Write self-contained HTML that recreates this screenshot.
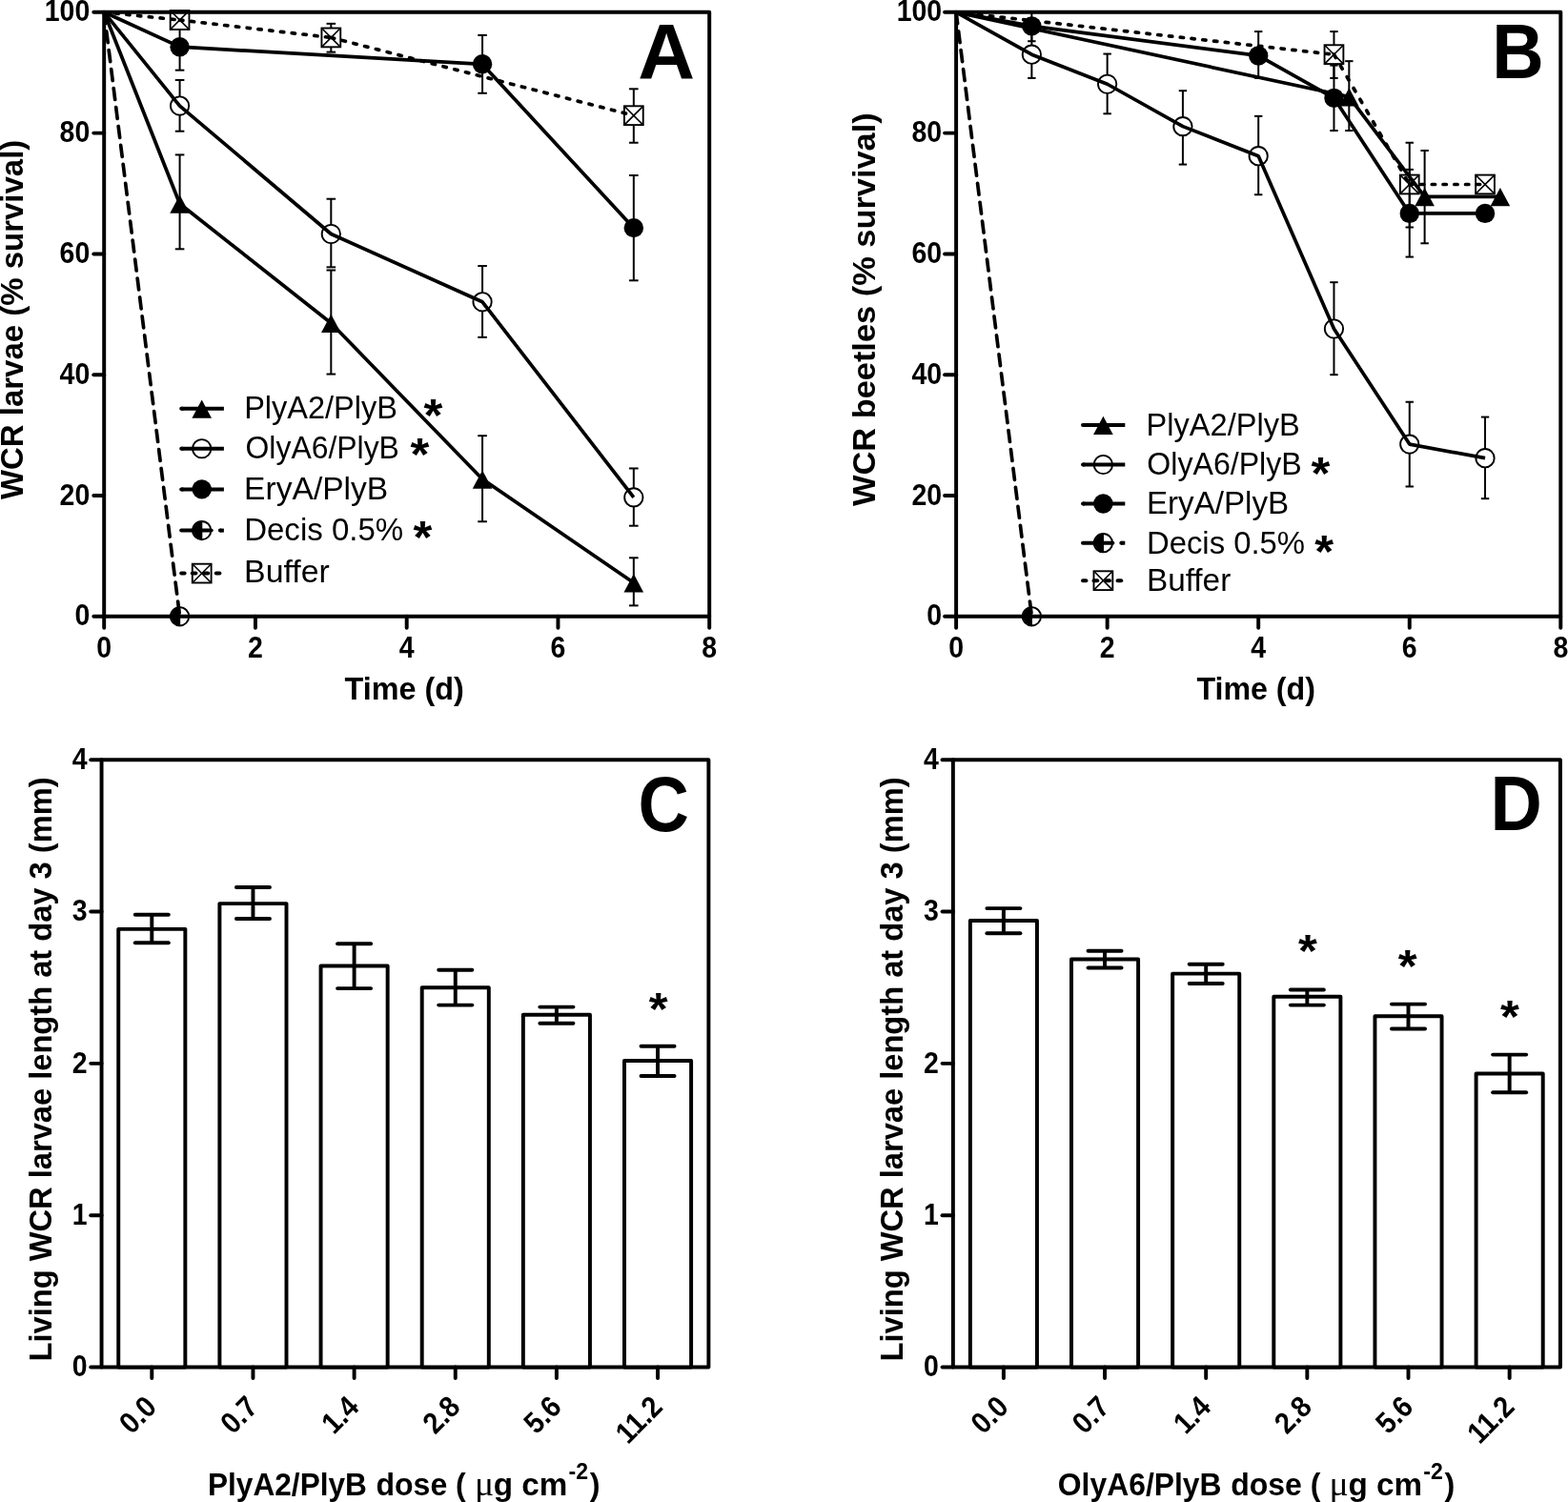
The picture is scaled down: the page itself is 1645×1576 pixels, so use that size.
<!DOCTYPE html>
<html lang="en"><head><meta charset="utf-8"><title>WCR survival and larval length</title>
<style>html,body{margin:0;padding:0;background:#fff}svg{display:block}</style></head>
<body>
<svg width="1645" height="1576" viewBox="0 0 1645 1576" font-family="Liberation Sans, Arial, sans-serif" fill="#000">
<rect width="1645" height="1576" fill="#fff"/>
<line x1="98.30" y1="646.80" x2="109.20" y2="646.80" stroke="#000" stroke-width="3.95" stroke-linecap="round"/>
<text transform="translate(94.30,656.30) scale(1,1.1)" font-size="28.5" font-weight="bold" text-anchor="end" >0</text>
<line x1="98.30" y1="520.00" x2="109.20" y2="520.00" stroke="#000" stroke-width="3.95" stroke-linecap="round"/>
<text transform="translate(94.30,529.50) scale(1,1.1)" font-size="28.5" font-weight="bold" text-anchor="end" >20</text>
<line x1="98.30" y1="393.20" x2="109.20" y2="393.20" stroke="#000" stroke-width="3.95" stroke-linecap="round"/>
<text transform="translate(94.30,402.70) scale(1,1.1)" font-size="28.5" font-weight="bold" text-anchor="end" >40</text>
<line x1="98.30" y1="266.40" x2="109.20" y2="266.40" stroke="#000" stroke-width="3.95" stroke-linecap="round"/>
<text transform="translate(94.30,275.90) scale(1,1.1)" font-size="28.5" font-weight="bold" text-anchor="end" >60</text>
<line x1="98.30" y1="139.60" x2="109.20" y2="139.60" stroke="#000" stroke-width="3.95" stroke-linecap="round"/>
<text transform="translate(94.30,149.10) scale(1,1.1)" font-size="28.5" font-weight="bold" text-anchor="end" >80</text>
<line x1="98.30" y1="12.80" x2="109.20" y2="12.80" stroke="#000" stroke-width="3.95" stroke-linecap="round"/>
<text transform="translate(94.30,22.30) scale(1,1.1)" font-size="28.5" font-weight="bold" text-anchor="end" >100</text>
<line x1="109.20" y1="646.80" x2="109.20" y2="658.70" stroke="#000" stroke-width="3.95" stroke-linecap="round"/>
<text transform="translate(109.20,689.90) scale(1,1.1)" font-size="28.5" font-weight="bold" text-anchor="middle" >0</text>
<line x1="267.95" y1="646.80" x2="267.95" y2="658.70" stroke="#000" stroke-width="3.95" stroke-linecap="round"/>
<text transform="translate(267.95,689.90) scale(1,1.1)" font-size="28.5" font-weight="bold" text-anchor="middle" >2</text>
<line x1="426.70" y1="646.80" x2="426.70" y2="658.70" stroke="#000" stroke-width="3.95" stroke-linecap="round"/>
<text transform="translate(426.70,689.90) scale(1,1.1)" font-size="28.5" font-weight="bold" text-anchor="middle" >4</text>
<line x1="585.45" y1="646.80" x2="585.45" y2="658.70" stroke="#000" stroke-width="3.95" stroke-linecap="round"/>
<text transform="translate(585.45,689.90) scale(1,1.1)" font-size="28.5" font-weight="bold" text-anchor="middle" >6</text>
<line x1="744.20" y1="646.80" x2="744.20" y2="658.70" stroke="#000" stroke-width="3.95" stroke-linecap="round"/>
<text transform="translate(744.20,689.90) scale(1,1.1)" font-size="28.5" font-weight="bold" text-anchor="middle" >8</text>
<text transform="translate(361.58,733.90) scale(1,1.05)" font-size="32.5" font-weight="bold" textLength="125.32" lengthAdjust="spacingAndGlyphs" >Time (d)</text>
<text transform="translate(24.30,524.10) rotate(-90) scale(1,1.05)" font-size="32.5" font-weight="bold" textLength="377.42" lengthAdjust="spacingAndGlyphs" >WCR larvae (% survival)</text>
<text transform="translate(669.14,82.00)" font-size="81.5" font-weight="bold" textLength="59.79" lengthAdjust="spacingAndGlyphs" >A</text>
<line x1="188.57" y1="162.42" x2="188.57" y2="261.33" stroke="#000" stroke-width="2.0" />
<line x1="183.77" y1="162.42" x2="193.38" y2="162.42" stroke="#000" stroke-width="2.0" />
<line x1="183.77" y1="261.33" x2="193.38" y2="261.33" stroke="#000" stroke-width="2.0" />
<line x1="347.32" y1="283.52" x2="347.32" y2="392.57" stroke="#000" stroke-width="2.0" />
<line x1="342.52" y1="283.52" x2="352.12" y2="283.52" stroke="#000" stroke-width="2.0" />
<line x1="342.52" y1="392.57" x2="352.12" y2="392.57" stroke="#000" stroke-width="2.0" />
<line x1="506.07" y1="457.23" x2="506.07" y2="547.26" stroke="#000" stroke-width="2.0" />
<line x1="501.27" y1="457.23" x2="510.88" y2="457.23" stroke="#000" stroke-width="2.0" />
<line x1="501.27" y1="547.26" x2="510.88" y2="547.26" stroke="#000" stroke-width="2.0" />
<line x1="664.83" y1="585.30" x2="664.83" y2="635.39" stroke="#000" stroke-width="2.0" />
<line x1="660.03" y1="585.30" x2="669.62" y2="585.30" stroke="#000" stroke-width="2.0" />
<line x1="660.03" y1="635.39" x2="669.62" y2="635.39" stroke="#000" stroke-width="2.0" />
<polygon points="188.57,204.48 198.88,223.78 178.27,223.78" fill="#000"/>
<polygon points="347.32,329.69 357.62,348.99 337.02,348.99" fill="#000"/>
<polygon points="506.07,493.39 516.38,512.69 495.77,512.69" fill="#000"/>
<polygon points="664.83,602.12 675.12,621.42 654.53,621.42" fill="#000"/>
<polyline points="109.20,12.80 188.57,213.78 347.32,338.99 506.07,502.69 664.83,611.42" fill="none" stroke="#000" stroke-width="3.7" stroke-linejoin="round" />
<line x1="188.57" y1="84.00" x2="188.57" y2="137.70" stroke="#000" stroke-width="2.0" />
<line x1="183.77" y1="84.00" x2="193.38" y2="84.00" stroke="#000" stroke-width="2.0" />
<line x1="183.77" y1="137.70" x2="193.38" y2="137.70" stroke="#000" stroke-width="2.0" />
<line x1="347.32" y1="208.71" x2="347.32" y2="280.35" stroke="#000" stroke-width="2.0" />
<line x1="342.52" y1="208.71" x2="352.12" y2="208.71" stroke="#000" stroke-width="2.0" />
<line x1="342.52" y1="280.35" x2="352.12" y2="280.35" stroke="#000" stroke-width="2.0" />
<line x1="506.07" y1="279.08" x2="506.07" y2="353.89" stroke="#000" stroke-width="2.0" />
<line x1="501.27" y1="279.08" x2="510.88" y2="279.08" stroke="#000" stroke-width="2.0" />
<line x1="501.27" y1="353.89" x2="510.88" y2="353.89" stroke="#000" stroke-width="2.0" />
<line x1="664.83" y1="491.47" x2="664.83" y2="551.70" stroke="#000" stroke-width="2.0" />
<line x1="660.03" y1="491.47" x2="669.62" y2="491.47" stroke="#000" stroke-width="2.0" />
<line x1="660.03" y1="551.70" x2="669.62" y2="551.70" stroke="#000" stroke-width="2.0" />
<circle cx="188.57" cy="111.07" r="9.65" fill="#fff" stroke="#000" stroke-width="1.9"/>
<circle cx="347.32" cy="245.48" r="9.65" fill="#fff" stroke="#000" stroke-width="1.9"/>
<circle cx="506.07" cy="316.80" r="9.65" fill="#fff" stroke="#000" stroke-width="1.9"/>
<circle cx="664.83" cy="521.90" r="9.65" fill="#fff" stroke="#000" stroke-width="1.9"/>
<polyline points="109.20,12.80 188.57,111.07 347.32,245.48 506.07,316.80 664.83,521.90" fill="none" stroke="#000" stroke-width="3.7" stroke-linejoin="round" />
<line x1="188.57" y1="24.85" x2="188.57" y2="73.66" stroke="#000" stroke-width="2.0" />
<line x1="183.77" y1="24.85" x2="193.38" y2="24.85" stroke="#000" stroke-width="2.0" />
<line x1="183.77" y1="73.66" x2="193.38" y2="73.66" stroke="#000" stroke-width="2.0" />
<line x1="506.07" y1="36.89" x2="506.07" y2="97.76" stroke="#000" stroke-width="2.0" />
<line x1="501.27" y1="36.89" x2="510.88" y2="36.89" stroke="#000" stroke-width="2.0" />
<line x1="501.27" y1="97.76" x2="510.88" y2="97.76" stroke="#000" stroke-width="2.0" />
<line x1="664.83" y1="183.98" x2="664.83" y2="294.30" stroke="#000" stroke-width="2.0" />
<line x1="660.03" y1="183.98" x2="669.62" y2="183.98" stroke="#000" stroke-width="2.0" />
<line x1="660.03" y1="294.30" x2="669.62" y2="294.30" stroke="#000" stroke-width="2.0" />
<circle cx="188.57" cy="49.19" r="10.2" fill="#000"/>
<circle cx="506.07" cy="67.32" r="10.2" fill="#000"/>
<circle cx="664.83" cy="239.14" r="10.2" fill="#000"/>
<polyline points="109.20,12.80 188.57,49.19 506.07,67.32 664.83,239.14" fill="none" stroke="#000" stroke-width="3.7" stroke-linejoin="round" />
<circle cx="188.57" cy="646.80" r="9.65" fill="#fff" stroke="#000" stroke-width="1.9"/>
<path d="M189.17,637.15 A9.65,9.65 0 0 0 189.17,656.45 Z" fill="#000"/>
<line x1="109.20" y1="12.80" x2="188.57" y2="646.80" stroke="#000" stroke-width="3.7" stroke-dasharray="11.99 8.11" stroke-linecap="round"/>
<line x1="347.32" y1="24.85" x2="347.32" y2="54.64" stroke="#000" stroke-width="2.0" />
<line x1="342.52" y1="24.85" x2="352.12" y2="24.85" stroke="#000" stroke-width="2.0" />
<line x1="342.52" y1="54.64" x2="352.12" y2="54.64" stroke="#000" stroke-width="2.0" />
<line x1="664.83" y1="93.32" x2="664.83" y2="149.74" stroke="#000" stroke-width="2.0" />
<line x1="660.03" y1="93.32" x2="669.62" y2="93.32" stroke="#000" stroke-width="2.0" />
<line x1="660.03" y1="149.74" x2="669.62" y2="149.74" stroke="#000" stroke-width="2.0" />
<rect x="178.67" y="11.14" width="19.8" height="19.8" fill="#fff" stroke="#000" stroke-width="1.9"/>
<line x1="178.67" y1="11.14" x2="198.47" y2="30.94" stroke="#000" stroke-width="1.6" />
<line x1="178.67" y1="30.94" x2="198.47" y2="11.14" stroke="#000" stroke-width="1.6" />
<rect x="337.43" y="29.53" width="19.8" height="19.8" fill="#fff" stroke="#000" stroke-width="1.9"/>
<line x1="337.43" y1="29.53" x2="357.22" y2="49.33" stroke="#000" stroke-width="1.6" />
<line x1="337.43" y1="49.33" x2="357.22" y2="29.53" stroke="#000" stroke-width="1.6" />
<rect x="654.93" y="111.31" width="19.8" height="19.8" fill="#fff" stroke="#000" stroke-width="1.9"/>
<line x1="654.93" y1="111.31" x2="674.73" y2="131.11" stroke="#000" stroke-width="1.6" />
<line x1="654.93" y1="131.11" x2="674.73" y2="111.31" stroke="#000" stroke-width="1.6" />
<line x1="109.20" y1="12.80" x2="188.57" y2="21.04" stroke="#000" stroke-width="3.7" stroke-dasharray="3.32 8.51" stroke-linecap="round"/>
<line x1="188.57" y1="21.04" x2="347.32" y2="39.43" stroke="#000" stroke-width="3.7" stroke-dasharray="3.32 8.52" stroke-linecap="round"/>
<line x1="347.32" y1="39.43" x2="664.83" y2="121.21" stroke="#000" stroke-width="3.7" stroke-dasharray="3.41 8.74" stroke-linecap="round"/>
<rect x="109.20" y="12.80" width="635.00" height="634.00" fill="none" stroke="#000" stroke-width="3.95" stroke-linejoin="round"/>
<polygon points="211.70,419.40 222.00,438.70 201.40,438.70" fill="#000"/>
<line x1="190.20" y1="428.70" x2="234.90" y2="428.70" stroke="#000" stroke-width="4.0" />
<line x1="190.20" y1="428.70" x2="191.60" y2="428.70" stroke="#000" stroke-width="4.0" stroke-linecap="round"/>
<text transform="translate(256.20,438.90)" font-size="32.5" font-weight="normal" textLength="160.73" lengthAdjust="spacingAndGlyphs" style="font-variant-ligatures:none">PlyA2/PlyB</text>
<circle cx="211.70" cy="470.75" r="9.65" fill="#fff" stroke="#000" stroke-width="1.9"/>
<line x1="190.20" y1="470.75" x2="234.90" y2="470.75" stroke="#000" stroke-width="4.0" />
<line x1="190.20" y1="470.75" x2="191.60" y2="470.75" stroke="#000" stroke-width="4.0" stroke-linecap="round"/>
<text transform="translate(257.52,480.70)" font-size="32.5" font-weight="normal" textLength="161.38" lengthAdjust="spacingAndGlyphs" style="font-variant-ligatures:none">OlyA6/PlyB</text>
<circle cx="211.70" cy="513.40" r="10.2" fill="#000"/>
<line x1="190.20" y1="513.40" x2="234.90" y2="513.40" stroke="#000" stroke-width="4.0" />
<line x1="190.20" y1="513.40" x2="191.60" y2="513.40" stroke="#000" stroke-width="4.0" stroke-linecap="round"/>
<text transform="translate(256.11,523.50)" font-size="32.5" font-weight="normal" textLength="151.17" lengthAdjust="spacingAndGlyphs" style="font-variant-ligatures:none">EryA/PlyB</text>
<circle cx="211.70" cy="556.60" r="9.65" fill="#fff" stroke="#000" stroke-width="1.9"/>
<path d="M212.30,546.95 A9.65,9.65 0 0 0 212.30,566.25 Z" fill="#000"/>
<line x1="190.20" y1="556.60" x2="221.70" y2="556.60" stroke="#000" stroke-width="4.0" stroke-linecap="round"/>
<line x1="230.90" y1="556.60" x2="234.90" y2="556.60" stroke="#000" stroke-width="4.0" />
<line x1="230.90" y1="556.60" x2="231.40" y2="556.60" stroke="#000" stroke-width="4.0" stroke-linecap="round"/>
<text transform="translate(256.16,567.30)" font-size="32.5" font-weight="normal" textLength="167.00" lengthAdjust="spacingAndGlyphs" style="font-variant-ligatures:none">Decis 0.5%</text>
<rect x="201.80" y="591.70" width="19.8" height="19.8" fill="#fff" stroke="#000" stroke-width="1.9"/>
<line x1="201.80" y1="591.70" x2="221.60" y2="611.50" stroke="#000" stroke-width="1.6" />
<line x1="201.80" y1="611.50" x2="221.60" y2="591.70" stroke="#000" stroke-width="1.6" />
<line x1="190.20" y1="601.60" x2="193.60" y2="601.60" stroke="#000" stroke-width="4.0" stroke-linecap="round"/>
<line x1="201.80" y1="601.60" x2="205.40" y2="601.60" stroke="#000" stroke-width="4.0" stroke-linecap="round"/>
<line x1="214.60" y1="601.60" x2="218.20" y2="601.60" stroke="#000" stroke-width="4.0" stroke-linecap="round"/>
<line x1="226.80" y1="601.60" x2="230.40" y2="601.60" stroke="#000" stroke-width="4.0" stroke-linecap="round"/>
<text transform="translate(256.09,611.10)" font-size="32.5" font-weight="normal" textLength="89.75" lengthAdjust="spacingAndGlyphs" style="font-variant-ligatures:none">Buffer</text>
<line x1="991.10" y1="646.80" x2="1003.10" y2="646.80" stroke="#000" stroke-width="3.95" stroke-linecap="round"/>
<text transform="translate(988.20,656.30) scale(1,1.1)" font-size="28.5" font-weight="bold" text-anchor="end" >0</text>
<line x1="991.10" y1="520.00" x2="1003.10" y2="520.00" stroke="#000" stroke-width="3.95" stroke-linecap="round"/>
<text transform="translate(988.20,529.50) scale(1,1.1)" font-size="28.5" font-weight="bold" text-anchor="end" >20</text>
<line x1="991.10" y1="393.20" x2="1003.10" y2="393.20" stroke="#000" stroke-width="3.95" stroke-linecap="round"/>
<text transform="translate(988.20,402.70) scale(1,1.1)" font-size="28.5" font-weight="bold" text-anchor="end" >40</text>
<line x1="991.10" y1="266.40" x2="1003.10" y2="266.40" stroke="#000" stroke-width="3.95" stroke-linecap="round"/>
<text transform="translate(988.20,275.90) scale(1,1.1)" font-size="28.5" font-weight="bold" text-anchor="end" >60</text>
<line x1="991.10" y1="139.60" x2="1003.10" y2="139.60" stroke="#000" stroke-width="3.95" stroke-linecap="round"/>
<text transform="translate(988.20,149.10) scale(1,1.1)" font-size="28.5" font-weight="bold" text-anchor="end" >80</text>
<line x1="991.10" y1="12.80" x2="1003.10" y2="12.80" stroke="#000" stroke-width="3.95" stroke-linecap="round"/>
<text transform="translate(988.20,22.30) scale(1,1.1)" font-size="28.5" font-weight="bold" text-anchor="end" >100</text>
<line x1="1003.10" y1="646.80" x2="1003.10" y2="658.70" stroke="#000" stroke-width="3.95" stroke-linecap="round"/>
<text transform="translate(1003.10,689.90) scale(1,1.1)" font-size="28.5" font-weight="bold" text-anchor="middle" >0</text>
<line x1="1161.65" y1="646.80" x2="1161.65" y2="658.70" stroke="#000" stroke-width="3.95" stroke-linecap="round"/>
<text transform="translate(1161.65,689.90) scale(1,1.1)" font-size="28.5" font-weight="bold" text-anchor="middle" >2</text>
<line x1="1320.20" y1="646.80" x2="1320.20" y2="658.70" stroke="#000" stroke-width="3.95" stroke-linecap="round"/>
<text transform="translate(1320.20,689.90) scale(1,1.1)" font-size="28.5" font-weight="bold" text-anchor="middle" >4</text>
<line x1="1478.75" y1="646.80" x2="1478.75" y2="658.70" stroke="#000" stroke-width="3.95" stroke-linecap="round"/>
<text transform="translate(1478.75,689.90) scale(1,1.1)" font-size="28.5" font-weight="bold" text-anchor="middle" >6</text>
<line x1="1637.30" y1="646.80" x2="1637.30" y2="658.70" stroke="#000" stroke-width="3.95" stroke-linecap="round"/>
<text transform="translate(1637.30,689.90) scale(1,1.1)" font-size="28.5" font-weight="bold" text-anchor="middle" >8</text>
<text transform="translate(1255.38,733.90) scale(1,1.05)" font-size="32.5" font-weight="bold" textLength="124.61" lengthAdjust="spacingAndGlyphs" >Time (d)</text>
<text transform="translate(917.85,531.00) rotate(-90) scale(1,1.05)" font-size="32.5" font-weight="bold" textLength="412.68" lengthAdjust="spacingAndGlyphs" >WCR beetles (% survival)</text>
<text transform="translate(1565.17,82.00)" font-size="81.5" font-weight="bold" textLength="54.51" lengthAdjust="spacingAndGlyphs" >B</text>
<line x1="1399.47" y1="33.09" x2="1399.47" y2="81.91" stroke="#000" stroke-width="2.0" />
<line x1="1395.27" y1="33.09" x2="1403.67" y2="33.09" stroke="#000" stroke-width="2.0" />
<line x1="1395.27" y1="81.91" x2="1403.67" y2="81.91" stroke="#000" stroke-width="2.0" />
<line x1="1478.75" y1="149.74" x2="1478.75" y2="238.50" stroke="#000" stroke-width="2.0" />
<line x1="1474.55" y1="149.74" x2="1482.95" y2="149.74" stroke="#000" stroke-width="2.0" />
<line x1="1474.55" y1="238.50" x2="1482.95" y2="238.50" stroke="#000" stroke-width="2.0" />
<rect x="1389.57" y="47.28" width="19.8" height="19.8" fill="#fff" stroke="#000" stroke-width="1.9"/>
<line x1="1389.57" y1="47.28" x2="1409.38" y2="67.08" stroke="#000" stroke-width="1.6" />
<line x1="1389.57" y1="67.08" x2="1409.38" y2="47.28" stroke="#000" stroke-width="1.6" />
<rect x="1468.85" y="183.59" width="19.8" height="19.8" fill="#fff" stroke="#000" stroke-width="1.9"/>
<line x1="1468.85" y1="183.59" x2="1488.65" y2="203.39" stroke="#000" stroke-width="1.6" />
<line x1="1468.85" y1="203.39" x2="1488.65" y2="183.59" stroke="#000" stroke-width="1.6" />
<rect x="1548.12" y="183.59" width="19.8" height="19.8" fill="#fff" stroke="#000" stroke-width="1.9"/>
<line x1="1548.12" y1="183.59" x2="1567.93" y2="203.39" stroke="#000" stroke-width="1.6" />
<line x1="1548.12" y1="203.39" x2="1567.93" y2="183.59" stroke="#000" stroke-width="1.6" />
<line x1="1003.10" y1="12.80" x2="1399.47" y2="57.18" stroke="#000" stroke-width="3.7" stroke-dasharray="3.32 8.51" stroke-linecap="round"/>
<line x1="1399.47" y1="57.18" x2="1478.75" y2="193.49" stroke="#000" stroke-width="3.7" stroke-dasharray="3.82 9.79" stroke-linecap="round"/>
<line x1="1478.75" y1="193.49" x2="1558.03" y2="193.49" stroke="#000" stroke-width="3.7" stroke-dasharray="3.30 8.46" stroke-linecap="round"/>
<line x1="1082.38" y1="32.45" x2="1082.38" y2="81.91" stroke="#000" stroke-width="2.0" />
<line x1="1078.17" y1="32.45" x2="1086.58" y2="32.45" stroke="#000" stroke-width="2.0" />
<line x1="1078.17" y1="81.91" x2="1086.58" y2="81.91" stroke="#000" stroke-width="2.0" />
<line x1="1161.65" y1="56.55" x2="1161.65" y2="119.31" stroke="#000" stroke-width="2.0" />
<line x1="1157.45" y1="56.55" x2="1165.85" y2="56.55" stroke="#000" stroke-width="2.0" />
<line x1="1157.45" y1="119.31" x2="1165.85" y2="119.31" stroke="#000" stroke-width="2.0" />
<line x1="1240.92" y1="95.22" x2="1240.92" y2="172.57" stroke="#000" stroke-width="2.0" />
<line x1="1236.72" y1="95.22" x2="1245.12" y2="95.22" stroke="#000" stroke-width="2.0" />
<line x1="1236.72" y1="172.57" x2="1245.12" y2="172.57" stroke="#000" stroke-width="2.0" />
<line x1="1320.20" y1="121.85" x2="1320.20" y2="204.27" stroke="#000" stroke-width="2.0" />
<line x1="1316.00" y1="121.85" x2="1324.40" y2="121.85" stroke="#000" stroke-width="2.0" />
<line x1="1316.00" y1="204.27" x2="1324.40" y2="204.27" stroke="#000" stroke-width="2.0" />
<line x1="1399.47" y1="296.20" x2="1399.47" y2="393.20" stroke="#000" stroke-width="2.0" />
<line x1="1395.27" y1="296.20" x2="1403.67" y2="296.20" stroke="#000" stroke-width="2.0" />
<line x1="1395.27" y1="393.20" x2="1403.67" y2="393.20" stroke="#000" stroke-width="2.0" />
<line x1="1478.75" y1="421.73" x2="1478.75" y2="510.49" stroke="#000" stroke-width="2.0" />
<line x1="1474.55" y1="421.73" x2="1482.95" y2="421.73" stroke="#000" stroke-width="2.0" />
<line x1="1474.55" y1="510.49" x2="1482.95" y2="510.49" stroke="#000" stroke-width="2.0" />
<line x1="1558.03" y1="437.58" x2="1558.03" y2="523.17" stroke="#000" stroke-width="2.0" />
<line x1="1553.83" y1="437.58" x2="1562.23" y2="437.58" stroke="#000" stroke-width="2.0" />
<line x1="1553.83" y1="523.17" x2="1562.23" y2="523.17" stroke="#000" stroke-width="2.0" />
<circle cx="1082.38" cy="57.18" r="9.65" fill="#fff" stroke="#000" stroke-width="1.9"/>
<circle cx="1161.65" cy="88.25" r="9.65" fill="#fff" stroke="#000" stroke-width="1.9"/>
<circle cx="1240.92" cy="132.63" r="9.65" fill="#fff" stroke="#000" stroke-width="1.9"/>
<circle cx="1320.20" cy="163.69" r="9.65" fill="#fff" stroke="#000" stroke-width="1.9"/>
<circle cx="1399.47" cy="345.02" r="9.65" fill="#fff" stroke="#000" stroke-width="1.9"/>
<circle cx="1478.75" cy="466.11" r="9.65" fill="#fff" stroke="#000" stroke-width="1.9"/>
<circle cx="1558.03" cy="480.69" r="9.65" fill="#fff" stroke="#000" stroke-width="1.9"/>
<polyline points="1003.10,12.80 1082.38,57.18 1161.65,88.25 1240.92,132.63 1320.20,163.69 1399.47,345.02 1478.75,466.11 1558.03,480.69" fill="none" stroke="#000" stroke-width="3.7" stroke-linejoin="round" />
<line x1="1082.38" y1="12.80" x2="1082.38" y2="43.23" stroke="#000" stroke-width="2.0" />
<line x1="1078.17" y1="12.80" x2="1086.58" y2="12.80" stroke="#000" stroke-width="2.0" />
<line x1="1078.17" y1="43.23" x2="1086.58" y2="43.23" stroke="#000" stroke-width="2.0" />
<line x1="1320.20" y1="33.09" x2="1320.20" y2="81.91" stroke="#000" stroke-width="2.0" />
<line x1="1316.00" y1="33.09" x2="1324.40" y2="33.09" stroke="#000" stroke-width="2.0" />
<line x1="1316.00" y1="81.91" x2="1324.40" y2="81.91" stroke="#000" stroke-width="2.0" />
<line x1="1399.47" y1="68.59" x2="1399.47" y2="137.06" stroke="#000" stroke-width="2.0" />
<line x1="1395.27" y1="68.59" x2="1403.67" y2="68.59" stroke="#000" stroke-width="2.0" />
<line x1="1395.27" y1="137.06" x2="1403.67" y2="137.06" stroke="#000" stroke-width="2.0" />
<line x1="1478.75" y1="177.89" x2="1478.75" y2="269.57" stroke="#000" stroke-width="2.0" />
<line x1="1474.55" y1="177.89" x2="1482.95" y2="177.89" stroke="#000" stroke-width="2.0" />
<line x1="1474.55" y1="269.57" x2="1482.95" y2="269.57" stroke="#000" stroke-width="2.0" />
<circle cx="1082.38" cy="27.38" r="10.2" fill="#000"/>
<circle cx="1320.20" cy="58.45" r="10.2" fill="#000"/>
<circle cx="1399.47" cy="102.83" r="10.2" fill="#000"/>
<circle cx="1478.75" cy="223.92" r="10.2" fill="#000"/>
<circle cx="1558.03" cy="223.92" r="10.2" fill="#000"/>
<polyline points="1003.10,12.80 1082.38,27.38 1320.20,58.45 1399.47,102.83 1478.75,223.92 1558.03,223.92" fill="none" stroke="#000" stroke-width="3.7" stroke-linejoin="round" />
<line x1="1415.33" y1="64.15" x2="1415.33" y2="137.06" stroke="#000" stroke-width="2.0" />
<line x1="1411.13" y1="64.15" x2="1419.53" y2="64.15" stroke="#000" stroke-width="2.0" />
<line x1="1411.13" y1="137.06" x2="1419.53" y2="137.06" stroke="#000" stroke-width="2.0" />
<line x1="1494.61" y1="157.99" x2="1494.61" y2="255.30" stroke="#000" stroke-width="2.0" />
<line x1="1490.40" y1="157.99" x2="1498.81" y2="157.99" stroke="#000" stroke-width="2.0" />
<line x1="1490.40" y1="255.30" x2="1498.81" y2="255.30" stroke="#000" stroke-width="2.0" />
<polygon points="1415.33,92.26 1425.63,111.56 1405.03,111.56" fill="#000"/>
<polygon points="1494.61,197.06 1504.90,216.36 1484.31,216.36" fill="#000"/>
<polygon points="1573.88,197.06 1584.18,216.36 1563.58,216.36" fill="#000"/>
<polyline points="1003.10,12.80 1415.33,101.56 1494.61,206.36 1573.88,206.36" fill="none" stroke="#000" stroke-width="3.7" stroke-linejoin="round" />
<circle cx="1082.38" cy="646.80" r="9.65" fill="#fff" stroke="#000" stroke-width="1.9"/>
<path d="M1082.97,637.15 A9.65,9.65 0 0 0 1082.97,656.45 Z" fill="#000"/>
<line x1="1003.10" y1="12.80" x2="1082.38" y2="646.80" stroke="#000" stroke-width="3.7" stroke-dasharray="11.99 8.11" stroke-linecap="round"/>
<rect x="1003.10" y="12.80" width="634.20" height="634.00" fill="none" stroke="#000" stroke-width="3.95" stroke-linejoin="round"/>
<polygon points="1157.40,436.70 1167.70,456.00 1147.10,456.00" fill="#000"/>
<line x1="1136.00" y1="446.00" x2="1180.30" y2="446.00" stroke="#000" stroke-width="4.0" />
<line x1="1136.00" y1="446.00" x2="1137.40" y2="446.00" stroke="#000" stroke-width="4.0" stroke-linecap="round"/>
<text transform="translate(1202.59,457.00)" font-size="32.5" font-weight="normal" textLength="161.14" lengthAdjust="spacingAndGlyphs" style="font-variant-ligatures:none">PlyA2/PlyB</text>
<circle cx="1157.40" cy="487.50" r="9.65" fill="#fff" stroke="#000" stroke-width="1.9"/>
<line x1="1136.00" y1="487.50" x2="1180.30" y2="487.50" stroke="#000" stroke-width="4.0" />
<line x1="1136.00" y1="487.50" x2="1137.40" y2="487.50" stroke="#000" stroke-width="4.0" stroke-linecap="round"/>
<text transform="translate(1203.32,497.80)" font-size="32.5" font-weight="normal" textLength="162.39" lengthAdjust="spacingAndGlyphs" style="font-variant-ligatures:none">OlyA6/PlyB</text>
<circle cx="1157.40" cy="528.50" r="10.2" fill="#000"/>
<line x1="1136.00" y1="528.50" x2="1180.30" y2="528.50" stroke="#000" stroke-width="4.0" />
<line x1="1136.00" y1="528.50" x2="1137.40" y2="528.50" stroke="#000" stroke-width="4.0" stroke-linecap="round"/>
<text transform="translate(1202.95,538.70)" font-size="32.5" font-weight="normal" textLength="149.11" lengthAdjust="spacingAndGlyphs" style="font-variant-ligatures:none">EryA/PlyB</text>
<circle cx="1157.40" cy="569.70" r="9.65" fill="#fff" stroke="#000" stroke-width="1.9"/>
<path d="M1158.00,560.05 A9.65,9.65 0 0 0 1158.00,579.35 Z" fill="#000"/>
<line x1="1136.00" y1="569.70" x2="1167.40" y2="569.70" stroke="#000" stroke-width="4.0" stroke-linecap="round"/>
<line x1="1176.30" y1="569.70" x2="1180.30" y2="569.70" stroke="#000" stroke-width="4.0" />
<line x1="1176.30" y1="569.70" x2="1176.80" y2="569.70" stroke="#000" stroke-width="4.0" stroke-linecap="round"/>
<text transform="translate(1202.97,580.50)" font-size="32.5" font-weight="normal" textLength="166.08" lengthAdjust="spacingAndGlyphs" style="font-variant-ligatures:none">Decis 0.5%</text>
<rect x="1147.50" y="599.30" width="19.8" height="19.8" fill="#fff" stroke="#000" stroke-width="1.9"/>
<line x1="1147.50" y1="599.30" x2="1167.30" y2="619.10" stroke="#000" stroke-width="1.6" />
<line x1="1147.50" y1="619.10" x2="1167.30" y2="599.30" stroke="#000" stroke-width="1.6" />
<line x1="1136.00" y1="609.20" x2="1139.40" y2="609.20" stroke="#000" stroke-width="4.0" stroke-linecap="round"/>
<line x1="1147.60" y1="609.20" x2="1151.20" y2="609.20" stroke="#000" stroke-width="4.0" stroke-linecap="round"/>
<line x1="1160.40" y1="609.20" x2="1164.00" y2="609.20" stroke="#000" stroke-width="4.0" stroke-linecap="round"/>
<line x1="1172.60" y1="609.20" x2="1176.20" y2="609.20" stroke="#000" stroke-width="4.0" stroke-linecap="round"/>
<text transform="translate(1202.93,620.40)" font-size="32.5" font-weight="normal" textLength="88.30" lengthAdjust="spacingAndGlyphs" style="font-variant-ligatures:none">Buffer</text>
<text transform="translate(454.40,451.90) scale(1,0.94)" font-size="51" font-weight="bold" text-anchor="middle" >*</text>
<text transform="translate(440.40,493.30) scale(1,0.94)" font-size="51" font-weight="bold" text-anchor="middle" >*</text>
<text transform="translate(443.30,580.30) scale(1,0.94)" font-size="51" font-weight="bold" text-anchor="middle" >*</text>
<text transform="translate(1385.30,513.30) scale(1,0.94)" font-size="51" font-weight="bold" text-anchor="middle" >*</text>
<text transform="translate(1389.20,594.50) scale(1,0.94)" font-size="51" font-weight="bold" text-anchor="middle" >*</text>
<rect x="106.55" y="797.20" width="636.85" height="637.30" fill="none" stroke="#000" stroke-width="3.95" stroke-linejoin="round"/>
<line x1="95.25" y1="1434.50" x2="106.55" y2="1434.50" stroke="#000" stroke-width="3.95" stroke-linecap="round"/>
<text transform="translate(91.65,1444.30) scale(1,1.1)" font-size="28.5" font-weight="bold" text-anchor="end" >0</text>
<line x1="95.25" y1="1275.17" x2="106.55" y2="1275.17" stroke="#000" stroke-width="3.95" stroke-linecap="round"/>
<text transform="translate(91.65,1284.97) scale(1,1.1)" font-size="28.5" font-weight="bold" text-anchor="end" >1</text>
<line x1="95.25" y1="1115.85" x2="106.55" y2="1115.85" stroke="#000" stroke-width="3.95" stroke-linecap="round"/>
<text transform="translate(91.65,1125.65) scale(1,1.1)" font-size="28.5" font-weight="bold" text-anchor="end" >2</text>
<line x1="95.25" y1="956.53" x2="106.55" y2="956.53" stroke="#000" stroke-width="3.95" stroke-linecap="round"/>
<text transform="translate(91.65,966.33) scale(1,1.1)" font-size="28.5" font-weight="bold" text-anchor="end" >3</text>
<line x1="95.25" y1="797.20" x2="106.55" y2="797.20" stroke="#000" stroke-width="3.95" stroke-linecap="round"/>
<text transform="translate(91.65,807.00) scale(1,1.1)" font-size="28.5" font-weight="bold" text-anchor="end" >4</text>
<rect x="124.25" y="974.85" width="70.10" height="459.65" fill="#fff" stroke="#000" stroke-width="3.95" stroke-linejoin="round"/>
<line x1="159.30" y1="959.80" x2="159.30" y2="989.20" stroke="#000" stroke-width="3.95" />
<line x1="141.80" y1="959.80" x2="176.80" y2="959.80" stroke="#000" stroke-width="3.95" stroke-linecap="round"/>
<line x1="141.80" y1="989.20" x2="176.80" y2="989.20" stroke="#000" stroke-width="3.95" stroke-linecap="round"/>
<line x1="159.30" y1="1434.50" x2="159.30" y2="1445.90" stroke="#000" stroke-width="3.95" stroke-linecap="round"/>
<text transform="translate(166.00,1478.10) rotate(-45) scale(1,1.1)" font-size="28.5" font-weight="bold" text-anchor="end" >0.0</text>
<rect x="230.40" y="948.10" width="70.10" height="486.40" fill="#fff" stroke="#000" stroke-width="3.95" stroke-linejoin="round"/>
<line x1="265.45" y1="931.00" x2="265.45" y2="964.00" stroke="#000" stroke-width="3.95" />
<line x1="247.95" y1="931.00" x2="282.95" y2="931.00" stroke="#000" stroke-width="3.95" stroke-linecap="round"/>
<line x1="247.95" y1="964.00" x2="282.95" y2="964.00" stroke="#000" stroke-width="3.95" stroke-linecap="round"/>
<line x1="265.45" y1="1434.50" x2="265.45" y2="1445.90" stroke="#000" stroke-width="3.95" stroke-linecap="round"/>
<text transform="translate(272.15,1478.10) rotate(-45) scale(1,1.1)" font-size="28.5" font-weight="bold" text-anchor="end" >0.7</text>
<rect x="336.55" y="1013.50" width="70.10" height="421.00" fill="#fff" stroke="#000" stroke-width="3.95" stroke-linejoin="round"/>
<line x1="371.60" y1="990.20" x2="371.60" y2="1037.10" stroke="#000" stroke-width="3.95" />
<line x1="354.10" y1="990.20" x2="389.10" y2="990.20" stroke="#000" stroke-width="3.95" stroke-linecap="round"/>
<line x1="354.10" y1="1037.10" x2="389.10" y2="1037.10" stroke="#000" stroke-width="3.95" stroke-linecap="round"/>
<line x1="371.60" y1="1434.50" x2="371.60" y2="1445.90" stroke="#000" stroke-width="3.95" stroke-linecap="round"/>
<text transform="translate(378.30,1478.10) rotate(-45) scale(1,1.1)" font-size="28.5" font-weight="bold" text-anchor="end" >1.4</text>
<rect x="442.70" y="1036.30" width="70.10" height="398.20" fill="#fff" stroke="#000" stroke-width="3.95" stroke-linejoin="round"/>
<line x1="477.75" y1="1017.80" x2="477.75" y2="1054.60" stroke="#000" stroke-width="3.95" />
<line x1="460.25" y1="1017.80" x2="495.25" y2="1017.80" stroke="#000" stroke-width="3.95" stroke-linecap="round"/>
<line x1="460.25" y1="1054.60" x2="495.25" y2="1054.60" stroke="#000" stroke-width="3.95" stroke-linecap="round"/>
<line x1="477.75" y1="1434.50" x2="477.75" y2="1445.90" stroke="#000" stroke-width="3.95" stroke-linecap="round"/>
<text transform="translate(484.45,1478.10) rotate(-45) scale(1,1.1)" font-size="28.5" font-weight="bold" text-anchor="end" >2.8</text>
<rect x="548.85" y="1064.80" width="70.10" height="369.70" fill="#fff" stroke="#000" stroke-width="3.95" stroke-linejoin="round"/>
<line x1="583.90" y1="1056.60" x2="583.90" y2="1073.70" stroke="#000" stroke-width="3.95" />
<line x1="566.40" y1="1056.60" x2="601.40" y2="1056.60" stroke="#000" stroke-width="3.95" stroke-linecap="round"/>
<line x1="566.40" y1="1073.70" x2="601.40" y2="1073.70" stroke="#000" stroke-width="3.95" stroke-linecap="round"/>
<line x1="583.90" y1="1434.50" x2="583.90" y2="1445.90" stroke="#000" stroke-width="3.95" stroke-linecap="round"/>
<text transform="translate(590.60,1478.10) rotate(-45) scale(1,1.1)" font-size="28.5" font-weight="bold" text-anchor="end" >5.6</text>
<rect x="655.00" y="1113.00" width="70.10" height="321.50" fill="#fff" stroke="#000" stroke-width="3.95" stroke-linejoin="round"/>
<line x1="690.05" y1="1097.80" x2="690.05" y2="1129.00" stroke="#000" stroke-width="3.95" />
<line x1="672.55" y1="1097.80" x2="707.55" y2="1097.80" stroke="#000" stroke-width="3.95" stroke-linecap="round"/>
<line x1="672.55" y1="1129.00" x2="707.55" y2="1129.00" stroke="#000" stroke-width="3.95" stroke-linecap="round"/>
<line x1="690.05" y1="1434.50" x2="690.05" y2="1445.90" stroke="#000" stroke-width="3.95" stroke-linecap="round"/>
<text transform="translate(696.75,1478.10) rotate(-45) scale(1,1.1)" font-size="28.5" font-weight="bold" text-anchor="end" >11.2</text>
<text transform="translate(690.60,1074.80) scale(1,0.94)" font-size="51" font-weight="bold" text-anchor="middle" >*</text>
<text transform="translate(669.44,872.10)" font-size="81.5" font-weight="bold" textLength="53.40" lengthAdjust="spacingAndGlyphs" >C</text>
<text transform="translate(54.20,1428.46) rotate(-90) scale(1,1.05)" font-size="32.5" font-weight="bold" textLength="613.06" lengthAdjust="spacingAndGlyphs" >Living WCR larvae length at day 3 (mm)</text>
<text transform="translate(218.00,1568.70) scale(1,1.05)" font-size="32.5" font-weight="bold" textLength="166.93" lengthAdjust="spacingAndGlyphs" >PlyA2/PlyB</text>
<text transform="translate(394.52,1568.70) scale(1,1.05)" font-size="32.5" font-weight="bold" textLength="94.26" lengthAdjust="spacingAndGlyphs" xml:space="preserve">dose (</text>
<text transform="translate(497.89,1568.70)" font-size="35" font-weight="normal" textLength="20.17" lengthAdjust="spacingAndGlyphs" font-family="Liberation Serif, serif">μ</text>
<text transform="translate(517.77,1568.70) scale(1,1.05)" font-size="32.5" font-weight="bold" textLength="77.60" lengthAdjust="spacingAndGlyphs" >g cm</text>
<text transform="translate(596.61,1552.20) scale(1,1.05)" font-size="23.1" font-weight="bold" textLength="20.53" lengthAdjust="spacingAndGlyphs" >-2</text>
<text transform="translate(618.70,1568.70) scale(1,1.05)" font-size="32.5" font-weight="bold" textLength="10.79" lengthAdjust="spacingAndGlyphs" >)</text>
<rect x="999.85" y="797.20" width="637.05" height="637.30" fill="none" stroke="#000" stroke-width="3.95" stroke-linejoin="round"/>
<line x1="988.55" y1="1434.50" x2="999.85" y2="1434.50" stroke="#000" stroke-width="3.95" stroke-linecap="round"/>
<text transform="translate(984.95,1444.30) scale(1,1.1)" font-size="28.5" font-weight="bold" text-anchor="end" >0</text>
<line x1="988.55" y1="1275.17" x2="999.85" y2="1275.17" stroke="#000" stroke-width="3.95" stroke-linecap="round"/>
<text transform="translate(984.95,1284.97) scale(1,1.1)" font-size="28.5" font-weight="bold" text-anchor="end" >1</text>
<line x1="988.55" y1="1115.85" x2="999.85" y2="1115.85" stroke="#000" stroke-width="3.95" stroke-linecap="round"/>
<text transform="translate(984.95,1125.65) scale(1,1.1)" font-size="28.5" font-weight="bold" text-anchor="end" >2</text>
<line x1="988.55" y1="956.53" x2="999.85" y2="956.53" stroke="#000" stroke-width="3.95" stroke-linecap="round"/>
<text transform="translate(984.95,966.33) scale(1,1.1)" font-size="28.5" font-weight="bold" text-anchor="end" >3</text>
<line x1="988.55" y1="797.20" x2="999.85" y2="797.20" stroke="#000" stroke-width="3.95" stroke-linecap="round"/>
<text transform="translate(984.95,807.00) scale(1,1.1)" font-size="28.5" font-weight="bold" text-anchor="end" >4</text>
<rect x="1017.85" y="966.00" width="70.10" height="468.50" fill="#fff" stroke="#000" stroke-width="3.95" stroke-linejoin="round"/>
<line x1="1052.90" y1="953.10" x2="1052.90" y2="979.20" stroke="#000" stroke-width="3.95" />
<line x1="1035.40" y1="953.10" x2="1070.40" y2="953.10" stroke="#000" stroke-width="3.95" stroke-linecap="round"/>
<line x1="1035.40" y1="979.20" x2="1070.40" y2="979.20" stroke="#000" stroke-width="3.95" stroke-linecap="round"/>
<line x1="1052.90" y1="1434.50" x2="1052.90" y2="1445.90" stroke="#000" stroke-width="3.95" stroke-linecap="round"/>
<text transform="translate(1059.60,1478.10) rotate(-45) scale(1,1.1)" font-size="28.5" font-weight="bold" text-anchor="end" >0.0</text>
<rect x="1124.00" y="1006.40" width="70.10" height="428.10" fill="#fff" stroke="#000" stroke-width="3.95" stroke-linejoin="round"/>
<line x1="1159.05" y1="997.80" x2="1159.05" y2="1015.50" stroke="#000" stroke-width="3.95" />
<line x1="1141.55" y1="997.80" x2="1176.55" y2="997.80" stroke="#000" stroke-width="3.95" stroke-linecap="round"/>
<line x1="1141.55" y1="1015.50" x2="1176.55" y2="1015.50" stroke="#000" stroke-width="3.95" stroke-linecap="round"/>
<line x1="1159.05" y1="1434.50" x2="1159.05" y2="1445.90" stroke="#000" stroke-width="3.95" stroke-linecap="round"/>
<text transform="translate(1165.75,1478.10) rotate(-45) scale(1,1.1)" font-size="28.5" font-weight="bold" text-anchor="end" >0.7</text>
<rect x="1230.15" y="1021.60" width="70.10" height="412.90" fill="#fff" stroke="#000" stroke-width="3.95" stroke-linejoin="round"/>
<line x1="1265.20" y1="1011.70" x2="1265.20" y2="1032.00" stroke="#000" stroke-width="3.95" />
<line x1="1247.70" y1="1011.70" x2="1282.70" y2="1011.70" stroke="#000" stroke-width="3.95" stroke-linecap="round"/>
<line x1="1247.70" y1="1032.00" x2="1282.70" y2="1032.00" stroke="#000" stroke-width="3.95" stroke-linecap="round"/>
<line x1="1265.20" y1="1434.50" x2="1265.20" y2="1445.90" stroke="#000" stroke-width="3.95" stroke-linecap="round"/>
<text transform="translate(1271.90,1478.10) rotate(-45) scale(1,1.1)" font-size="28.5" font-weight="bold" text-anchor="end" >1.4</text>
<rect x="1336.30" y="1045.70" width="70.10" height="388.80" fill="#fff" stroke="#000" stroke-width="3.95" stroke-linejoin="round"/>
<line x1="1371.35" y1="1038.40" x2="1371.35" y2="1054.60" stroke="#000" stroke-width="3.95" />
<line x1="1353.85" y1="1038.40" x2="1388.85" y2="1038.40" stroke="#000" stroke-width="3.95" stroke-linecap="round"/>
<line x1="1353.85" y1="1054.60" x2="1388.85" y2="1054.60" stroke="#000" stroke-width="3.95" stroke-linecap="round"/>
<line x1="1371.35" y1="1434.50" x2="1371.35" y2="1445.90" stroke="#000" stroke-width="3.95" stroke-linecap="round"/>
<text transform="translate(1378.05,1478.10) rotate(-45) scale(1,1.1)" font-size="28.5" font-weight="bold" text-anchor="end" >2.8</text>
<rect x="1442.45" y="1066.30" width="70.10" height="368.20" fill="#fff" stroke="#000" stroke-width="3.95" stroke-linejoin="round"/>
<line x1="1477.50" y1="1053.60" x2="1477.50" y2="1079.50" stroke="#000" stroke-width="3.95" />
<line x1="1460.00" y1="1053.60" x2="1495.00" y2="1053.60" stroke="#000" stroke-width="3.95" stroke-linecap="round"/>
<line x1="1460.00" y1="1079.50" x2="1495.00" y2="1079.50" stroke="#000" stroke-width="3.95" stroke-linecap="round"/>
<line x1="1477.50" y1="1434.50" x2="1477.50" y2="1445.90" stroke="#000" stroke-width="3.95" stroke-linecap="round"/>
<text transform="translate(1484.20,1478.10) rotate(-45) scale(1,1.1)" font-size="28.5" font-weight="bold" text-anchor="end" >5.6</text>
<rect x="1548.60" y="1126.40" width="70.10" height="308.10" fill="#fff" stroke="#000" stroke-width="3.95" stroke-linejoin="round"/>
<line x1="1583.65" y1="1106.60" x2="1583.65" y2="1146.20" stroke="#000" stroke-width="3.95" />
<line x1="1566.15" y1="1106.60" x2="1601.15" y2="1106.60" stroke="#000" stroke-width="3.95" stroke-linecap="round"/>
<line x1="1566.15" y1="1146.20" x2="1601.15" y2="1146.20" stroke="#000" stroke-width="3.95" stroke-linecap="round"/>
<line x1="1583.65" y1="1434.50" x2="1583.65" y2="1445.90" stroke="#000" stroke-width="3.95" stroke-linecap="round"/>
<text transform="translate(1590.35,1478.10) rotate(-45) scale(1,1.1)" font-size="28.5" font-weight="bold" text-anchor="end" >11.2</text>
<text transform="translate(1372.00,1014.00) scale(1,0.94)" font-size="51" font-weight="bold" text-anchor="middle" >*</text>
<text transform="translate(1476.60,1029.70) scale(1,0.94)" font-size="51" font-weight="bold" text-anchor="middle" >*</text>
<text transform="translate(1584.00,1082.50) scale(1,0.94)" font-size="51" font-weight="bold" text-anchor="middle" >*</text>
<text transform="translate(1563.49,871.00)" font-size="81.5" font-weight="bold" textLength="54.34" lengthAdjust="spacingAndGlyphs" >D</text>
<text transform="translate(947.00,1428.46) rotate(-90) scale(1,1.05)" font-size="32.5" font-weight="bold" textLength="613.06" lengthAdjust="spacingAndGlyphs" >Living WCR larvae length at day 3 (mm)</text>
<text transform="translate(1109.83,1568.70) scale(1,1.05)" font-size="32.5" font-weight="bold" textLength="171.72" lengthAdjust="spacingAndGlyphs" >OlyA6/PlyB</text>
<text transform="translate(1291.22,1568.70) scale(1,1.05)" font-size="32.5" font-weight="bold" textLength="94.26" lengthAdjust="spacingAndGlyphs" xml:space="preserve">dose (</text>
<text transform="translate(1394.59,1568.70)" font-size="35" font-weight="normal" textLength="20.17" lengthAdjust="spacingAndGlyphs" font-family="Liberation Serif, serif">μ</text>
<text transform="translate(1414.47,1568.70) scale(1,1.05)" font-size="32.5" font-weight="bold" textLength="77.60" lengthAdjust="spacingAndGlyphs" >g cm</text>
<text transform="translate(1493.31,1552.20) scale(1,1.05)" font-size="23.1" font-weight="bold" textLength="20.53" lengthAdjust="spacingAndGlyphs" >-2</text>
<text transform="translate(1515.40,1568.70) scale(1,1.05)" font-size="32.5" font-weight="bold" textLength="10.79" lengthAdjust="spacingAndGlyphs" >)</text>
</svg>
</body></html>
